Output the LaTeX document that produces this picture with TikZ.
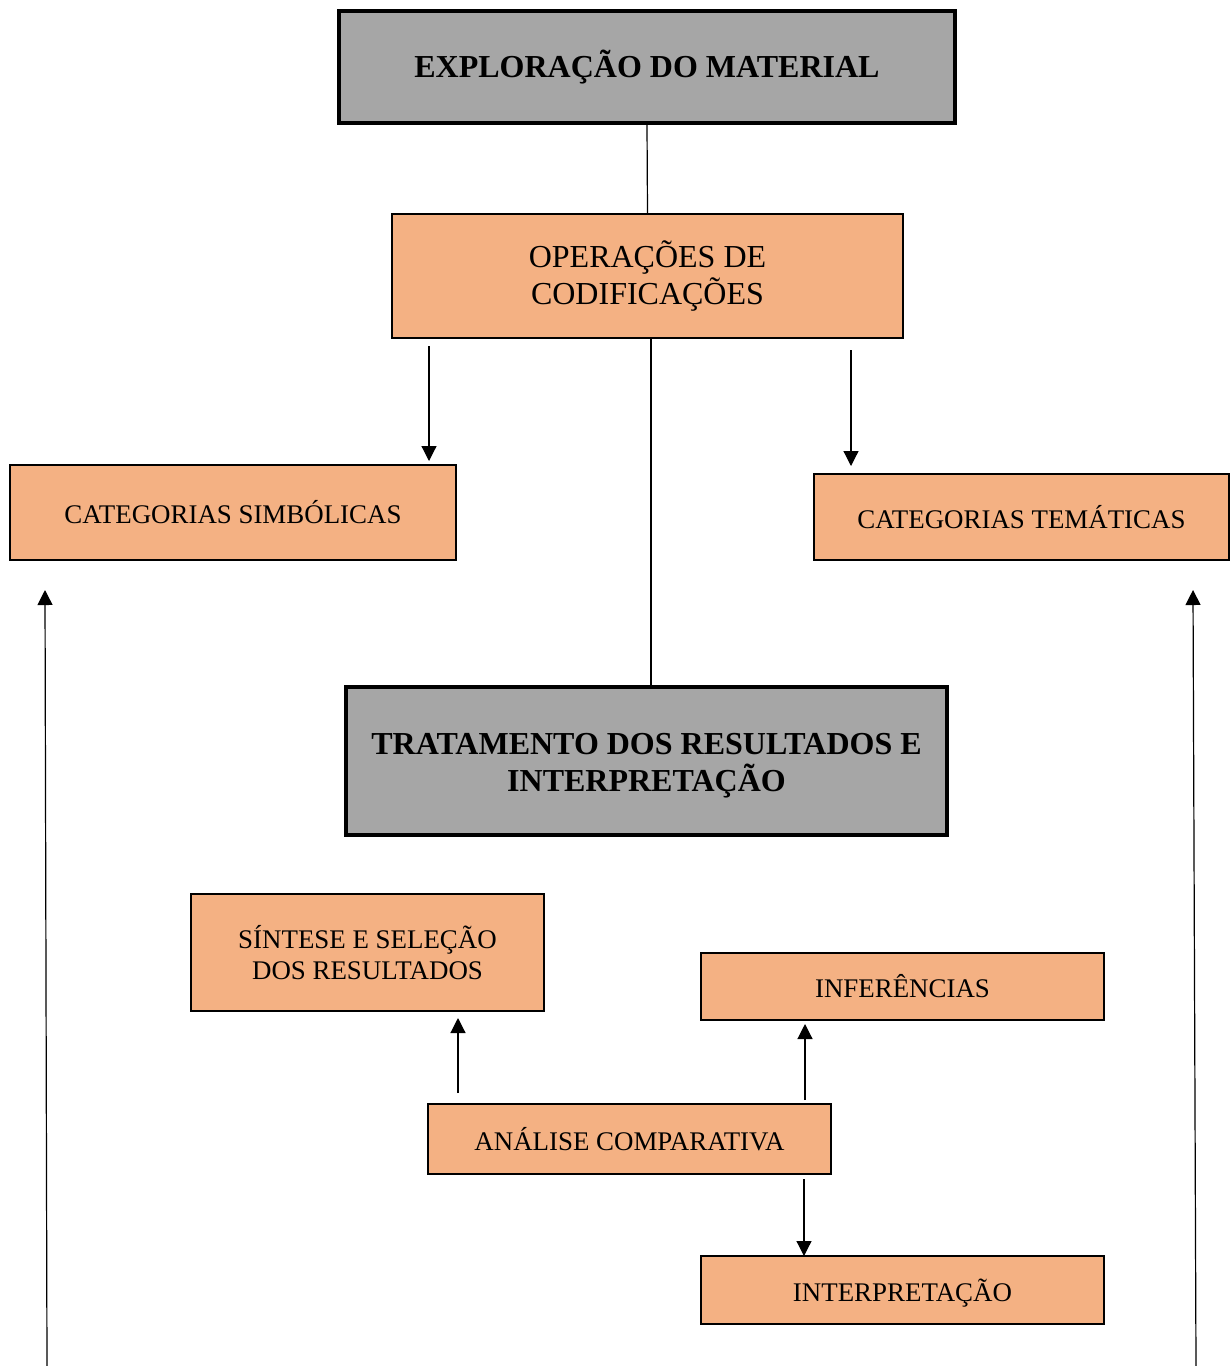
\documentclass[tikz,border=0pt]{standalone}
\usepackage{fontspec}
\setmainfont{Liberation Serif}
\usetikzlibrary{arrows.meta}
\definecolor{boxorange}{HTML}{F4B183}
\definecolor{boxgray}{HTML}{A6A6A6}
\tikzset{
  headbox/.style={draw=black,line width=2pt,fill=boxgray,inner sep=0pt,align=center,
    font=\fontsize{16}{18.5}\selectfont\bfseries},
  bigbox/.style={draw=black,line width=1pt,fill=boxorange,inner sep=0pt,align=center,
    font=\fontsize{16}{18.5}\selectfont},
  smallbox/.style={draw=black,line width=1pt,fill=boxorange,inner sep=0pt,align=center,
    font=\fontsize{13.45}{15.5}\selectfont},
  conn/.style={draw=black,line width=0.6pt},
  arr/.style={conn,-{Triangle[width=7.5pt,length=7.5pt]}}
}
\begin{document}
\begin{tikzpicture}[x=0.5pt,y=-0.5pt]
\useasboundingbox (0,0) rectangle (1230,1366);
\node[headbox,minimum width=308pt,minimum height=56pt] (expl) at (647,67) {EXPLORAÇÃO DO MATERIAL};
\node[bigbox,minimum width=255.5pt,minimum height=62pt] (oper) at (647.5,276) {OPERAÇÕES DE\\CODIFICAÇÕES};
\node[smallbox,minimum width=223pt,minimum height=47.5pt] (csim) at (233,512.5) {CATEGORIAS SIMBÓLICAS};
\node[smallbox,minimum width=207.5pt,minimum height=43pt] (ctem) at (1021.5,517) {CATEGORIAS TEMÁTICAS};
\node[headbox,minimum width=300.5pt,minimum height=74pt] (trat) at (646.5,761) {};
\node[headbox,draw=none,fill=none] (tratt) at (646.5,766) {TRATAMENTO DOS RESULTADOS E\\INTERPRETAÇÃO};
\node[smallbox,minimum width=176.5pt,minimum height=58.5pt] (sint) at (367.5,952.5) {SÍNTESE E SELEÇÃO\\DOS RESULTADOS};
\node[smallbox,minimum width=201.5pt,minimum height=33.5pt] (infe) at (902.5,986.5) {INFERÊNCIAS};
\node[smallbox,minimum width=201.5pt,minimum height=35pt] (anal) at (629.5,1139) {ANÁLISE COMPARATIVA};
\node[smallbox,minimum width=201.5pt,minimum height=34pt] (inte) at (902.5,1290) {};
\node[smallbox,draw=none,fill=none] (intet) at (902.5,1293) {INTERPRETAÇÃO};

% free ends
\coordinate (a1s) at (429,346);
\coordinate (a1e) at (429,461);
\coordinate (a2s) at (851,350);
\coordinate (a2e) at (851,466);
\coordinate (lbs) at (47,1366);
\coordinate (lbe) at (45,590);
\coordinate (rbs) at (1196,1366);
\coordinate (rbe) at (1193,590);
\coordinate (s1s) at (458,1093);
\coordinate (s1e) at (458,1018);
\coordinate (i1s) at (805,1100);
\coordinate (i1e) at (805,1024);
\coordinate (d1s) at (804,1179);
\coordinate (d1e) at (804,1256);

\draw[conn] (expl.south) -- (oper.north);
\draw[conn] ([xshift=1.75pt]oper.south) -- ([xshift=2.25pt]trat.north);
\draw[arr] (a1s) -- (a1e);
\draw[arr] (a2s) -- (a2e);
\draw[arr] (lbs) -- (lbe);
\draw[arr] (rbs) -- (rbe);
\draw[arr] (s1s) -- (s1e);
\draw[arr] (i1s) -- (i1e);
\draw[arr] (d1s) -- (d1e);
\end{tikzpicture}
\end{document}
